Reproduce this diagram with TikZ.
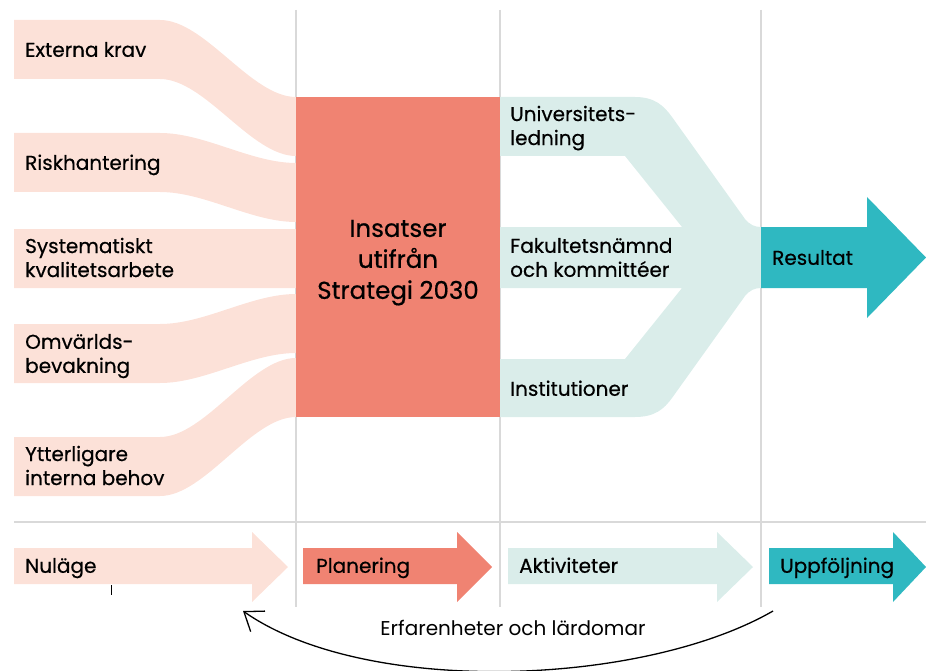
\documentclass[tikz,border=0pt]{standalone}
\usepackage{fontspec}
\setmainfont{Poppins}[FakeBold=0.5]
\newfontfamily\plainfont{Poppins}
\usepackage{tikz}
\usetikzlibrary{arrows.meta, positioning}
\definecolor{peach}{HTML}{FCE1D8}
\definecolor{salmon}{HTML}{F08372}
\definecolor{mint}{HTML}{DAEDEA}
\definecolor{tealc}{HTML}{2FB8C1}
\definecolor{gridgrey}{HTML}{D9D9D9}
\tikzset{
    x=1pt, y=-1pt, % one unit is one pixel of the sketch, y grows downwards
    grid/.style = {draw=gridgrey, line width=1.2pt},
    lbl/.style = {anchor=west, inner sep=0pt, align=left, font=\fontsize{20}{24}\selectfont,
        execute at begin node=\strut, execute at end node=\strut}, % the labels on the bands
    bigbox/.style = {fill=salmon, minimum width=204pt, minimum height=320pt, inner sep=0pt},
    boxtext/.style = {inner sep=0pt, align=center, font=\fontsize{24.5}{31}\selectfont,
        execute at begin node=\strut, execute at end node=\strut},
    loopback/.style = {line width=1.3pt, -{Straight Barb[length=17pt, width=25pt, line width=1.3pt]}}
}
% band from a label on the left into the big box: top at the left, top at the box
\newcommand{\inband}[2]{%
    \fill[peach] (14,#1) -- (160,#1) .. controls (205,#1) and (251,#2) .. (296,#2)
        -- (296,#2+59) .. controls (251,#2+59) and (205,#1+59) .. (160,#1+59) -- (14,#1+59) -- cycle;}
% arrow of the phase row: colour, left end, start of head, tip
\newcommand{\phasearrow}[4]{%
    \fill[#1] (#2,548) -- (#3,548) -- (#3,532) -- (#4,567) -- (#3,602) -- (#3,584) -- (#2,584) -- cycle;}

\begin{document}
\begin{tikzpicture}
    \useasboundingbox (0,0) rectangle (926,671);
    % grid lines
    \draw[grid] (296,10) -- (296,607);
    \draw[grid] (500,10) -- (500,607);
    \draw[grid] (761,10) -- (761,607);
    \draw[grid] (14,522) -- (926,522);

    % bands into the box
    \inband{20}{97}
    \inband{133}{163}
    \inband{229}{229}
    \inband{324}{294}
    \inband{437}{358}
    \node[bigbox] (ins) at (398,257) {};
    \node[boxtext] (instext) at (398,264) {Insatser\\utifrån\\Strategi 2030};

    % the three bands out of the box, joined
    \fill[mint] (500,97) -- (635,97) .. controls (655,97) and (664,106) .. (672,117) -- (745,219)
        .. controls (750,225) and (755,227) .. (761,227) -- (761,288)
        .. controls (755,288) and (750,290) .. (745,296) -- (672,398)
        .. controls (664,409) and (655,417) .. (635,417) -- (500,417) -- (500,359)
        -- (625,359) -- (682,288) -- (500,288) -- (500,227) -- (682,227) -- (625,156) -- (500,156) -- cycle;
    \fill[tealc] (761,227) -- (867,227) -- (867,197) -- (926,257.5) -- (867,318) -- (867,288) -- (761,288) -- cycle;

    \node[lbl] (ext) at (25,52) {Externa krav};
    \node[lbl] (risk) at (25,165) {Riskhantering};
    \node[lbl] (sys) at (25,261) {Systematiskt\\kvalitetsarbete};
    \node[lbl] (omv) at (25,357) {Omvärlds-\\bevakning};
    \node[lbl] (ytt) at (25,469) {Ytterligare\\interna behov};
    \node[lbl] (uni) at (510,129) {Universitets-\\ledning};
    \node[lbl] (fak) at (510,261) {Fakultetsnämnd\\och kommittéer};
    \node[lbl] (inst) at (510,391) {Institutioner};
    \node[lbl] (res) at (772,260) {Resultat};

    % phase row
    \phasearrow{peach}{14}{252}{288}
    \phasearrow{salmon}{303}{457}{492}
    \phasearrow{mint}{508}{717}{753}
    \phasearrow{tealc}{769}{893}{926}
    \node[lbl] (nul) at (25,568) {Nuläge};
    \node[lbl] (plan) at (316,568) {Planering};
    \node[lbl] (akt) at (519,568) {Aktiviteter};
    \node[lbl] (upp) at (780,568) {Uppföljning};
    \draw[line width=1pt] (111,585) -- (111,595);

    % back to the start
    \node[font=\plainfont\fontsize{20}{24}\selectfont, inner sep=0pt] (erf) at (513,628) {Erfarenheter och lärdomar};
    \coordinate (from) at (773,611);
    \coordinate (to) at (243,611);
    \draw[loopback] (from) .. controls (643,686) and (366,697) .. (to);
\end{tikzpicture}
\end{document}
